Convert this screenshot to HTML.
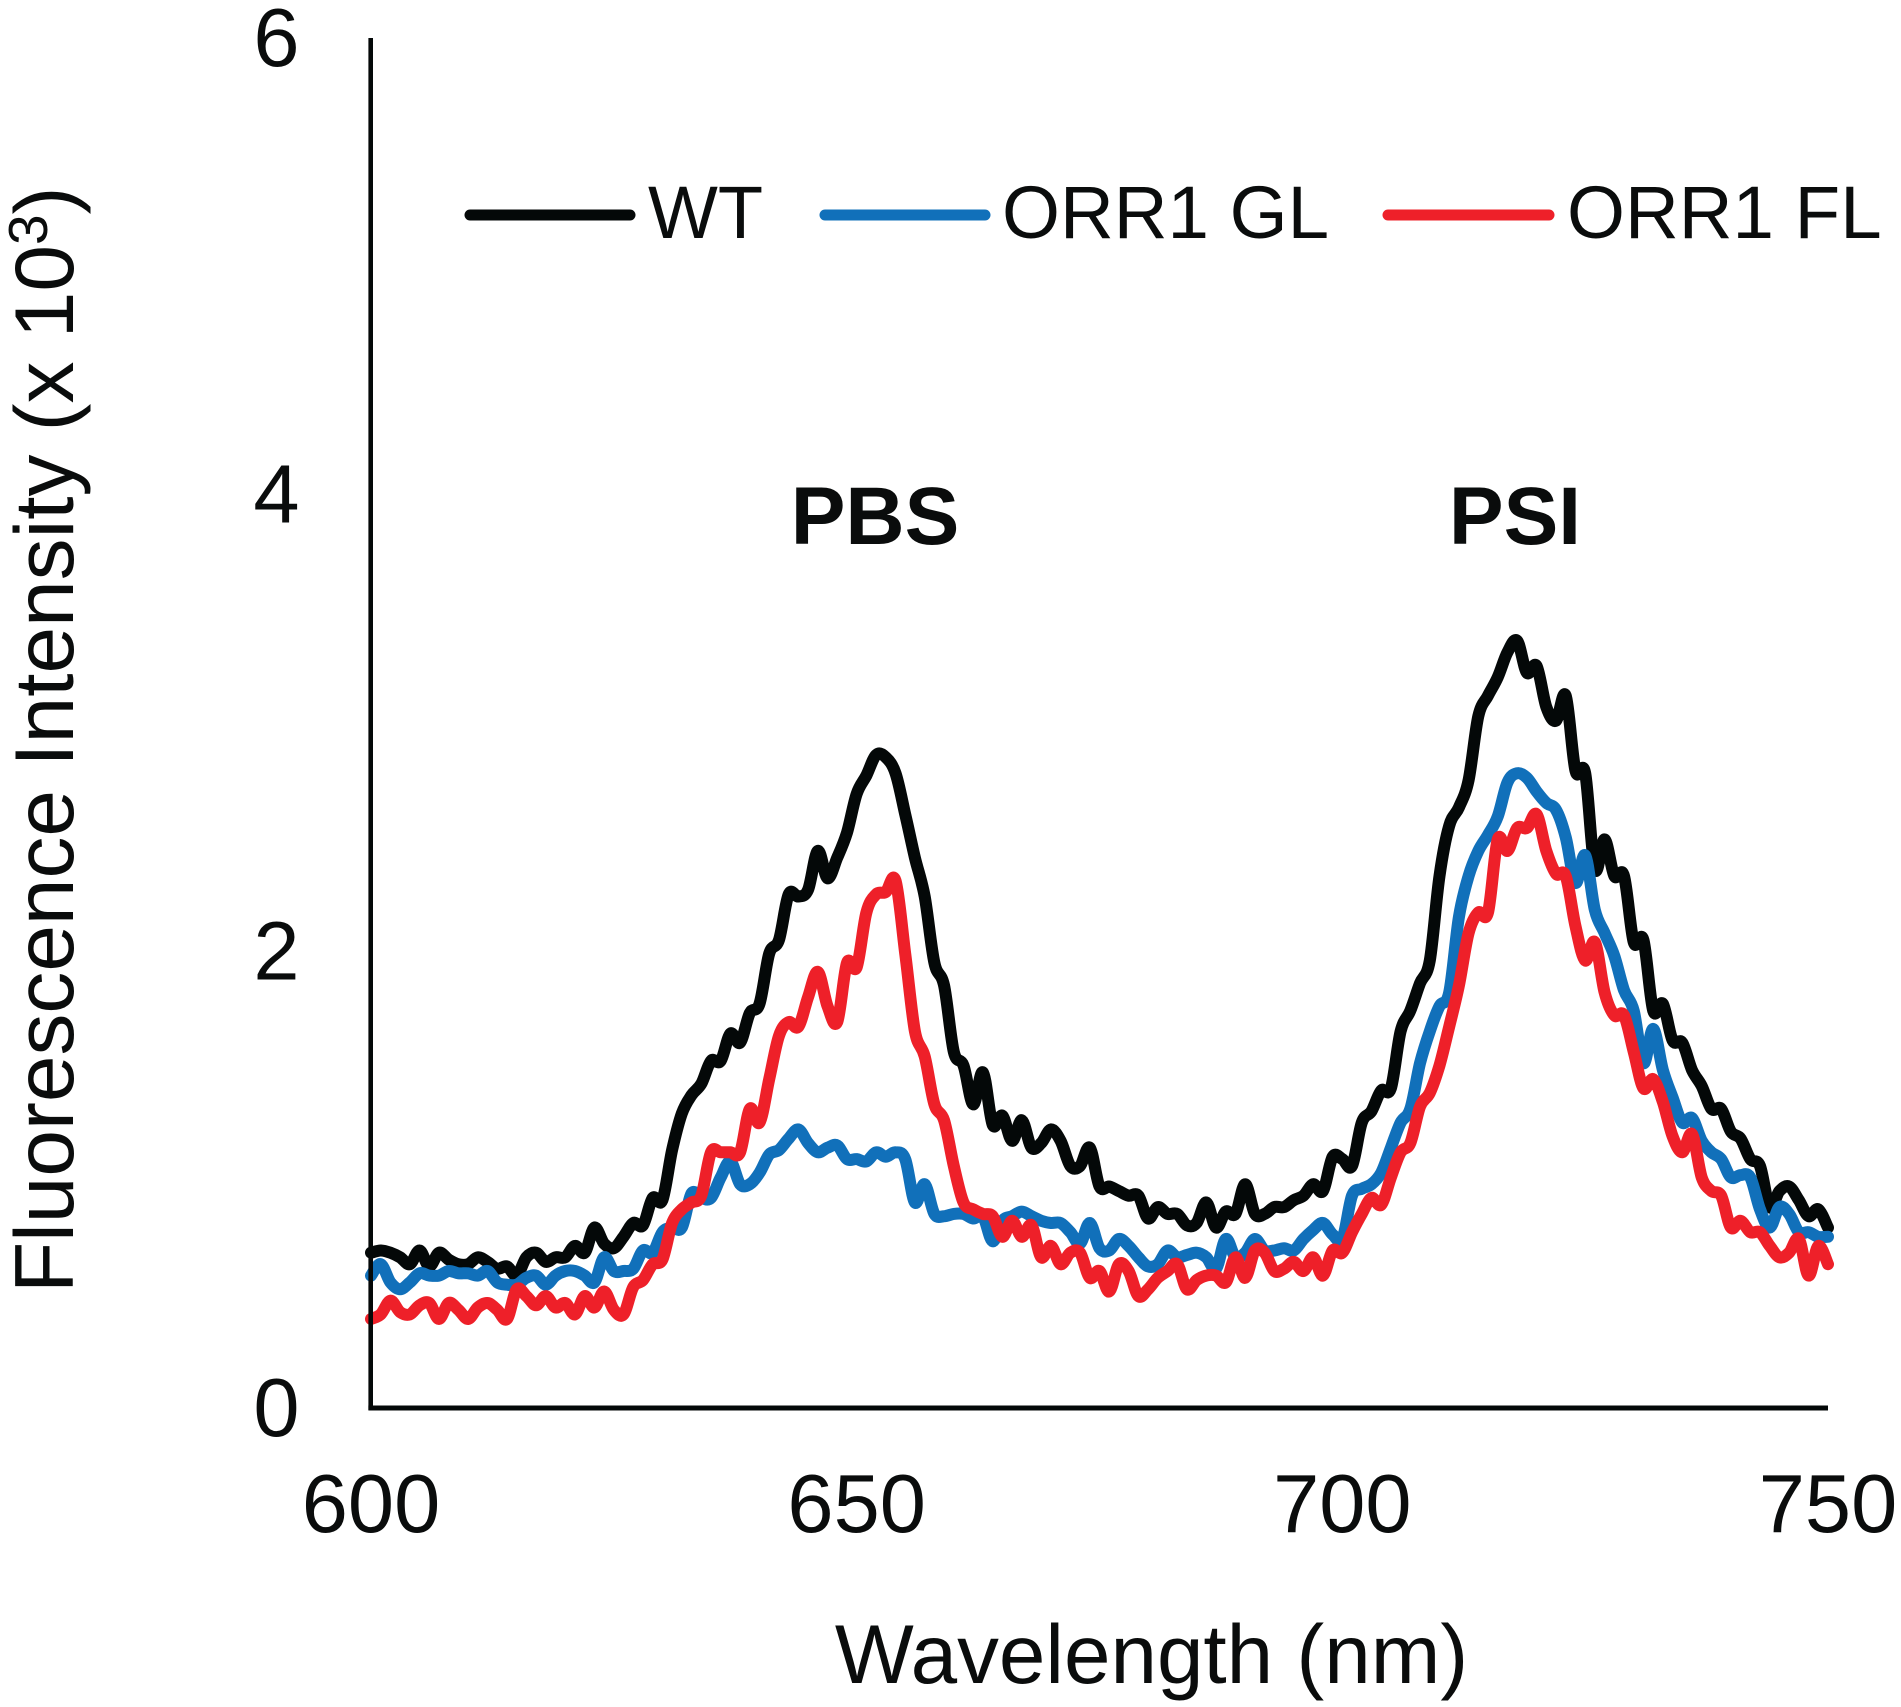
<!DOCTYPE html>
<html lang="en">
<head>
<meta charset="utf-8">
<title>Fluorescence emission spectra</title>
<style>
html,body{margin:0;padding:0;background:#fff;}
svg{display:block;}
text{font-family:"Liberation Sans",sans-serif;fill:#0a0c0c;}
</style>
</head>
<body>
<svg id="chart" xmlns="http://www.w3.org/2000/svg" width="1901" height="1707" viewBox="0 0 1901 1707">
  <rect x="0" y="0" width="1901" height="1707" fill="#ffffff"/>
  <g id="x-ticks"></g>
  <g id="y-ticks"></g>
  <g id="series"></g>
  <line x1="370.7" y1="38" x2="370.7" y2="1410" stroke="#040808" stroke-width="4.6"/>
  <line x1="368.4" y1="1408" x2="1828" y2="1408" stroke="#040808" stroke-width="5"/>
  <text transform="translate(73 1293) rotate(-90)" font-size="83.8">Fluorescence Intensity (x 10<tspan font-size="55" dy="-26">3</tspan><tspan dy="26">)</tspan></text>
  <text x="1151.5" y="1683" font-size="83.6" text-anchor="middle">Wavelength (nm)</text>
  <text x="875" y="544" font-size="82" font-weight="bold" text-anchor="middle">PBS</text>
  <text x="1515" y="544" font-size="82" font-weight="bold" text-anchor="middle">PSI</text>
  <g>
    <g>
      <line x1="470" y1="215" x2="630" y2="215" stroke="#040808" stroke-width="11" stroke-linecap="round"/>
      <text x="648" y="238" font-size="74">WT</text>
    </g>
    <g>
      <line x1="825" y1="215" x2="985" y2="215" stroke="#1170ba" stroke-width="11" stroke-linecap="round"/>
      <text x="1002" y="238" font-size="74.5">ORR1 GL</text>
    </g>
    <g>
      <line x1="1388" y1="215" x2="1549" y2="215" stroke="#ee2029" stroke-width="11" stroke-linecap="round"/>
      <text x="1567" y="238" font-size="74.5">ORR1 FL</text>
    </g>
  </g>
</svg>
<script>
var wavelengths = [600,601,602,603,604,605,606,607,608,609,610,611,612,613,614,615,616,617,618,619,620,621,622,623,624,625,626,627,628,629,630,631,632,633,634,635,636,637,638,639,640,641,642,643,644,645,646,647,648,649,650,651,652,653,654,655,656,657,658,659,660,661,662,663,664,665,666,667,668,669,670,671,672,673,674,675,676,677,678,679,680,681,682,683,684,685,686,687,688,689,690,691,692,693,694,695,696,697,698,699,700,701,702,703,704,705,706,707,708,709,710,711,712,713,714,715,716,717,718,719,720,721,722,723,724,725,726,727,728,729,730,731,732,733,734,735,736,737,738,739,740,741,742,743,744,745,746,747,748,749,750];
var wtValues = [.68,.69,.68,.66,.63,.69,.62,.68,.65,.63,
.63,.66,.64,.61,.62,.58,.66,.68,.64,.66,
.66,.71,.68,.79,.72,.70,.75,.81,.80,.92,
.91,1.13,1.29,1.37,1.42,1.52,1.52,1.64,1.60,1.73,
1.77,1.99,2.05,2.25,2.24,2.27,2.44,2.32,2.41,2.52,
2.69,2.77,2.86,2.85,2.78,2.60,2.41,2.24,1.95,1.85,
1.56,1.50,1.33,1.47,1.24,1.28,1.17,1.26,1.14,1.16,
1.22,1.17,1.06,1.06,1.14,.97,.97,.95,.93,.93,
.83,.88,.85,.85,.80,.81,.90,.79,.86,.85,
.98,.85,.85,.88,.88,.91,.93,.98,.95,1.10,
1.09,1.06,1.25,1.30,1.39,1.40,1.65,1.74,1.86,1.96,
2.33,2.55,2.63,2.75,3.03,3.12,3.20,3.31,3.36,3.22,
3.25,3.07,3.01,3.12,2.79,2.78,2.36,2.49,2.33,2.33,
2.04,2.05,1.74,1.77,1.61,1.60,1.48,1.41,1.31,1.31,
1.21,1.18,1.09,1.06,.88,.95,.97,.91,.84,.87,.79];
var glValues = [.58,.63,.55,.52,.55,.59,.58,.58,.60,.59,
.59,.58,.60,.55,.54,.54,.57,.58,.54,.58,
.60,.60,.58,.55,.66,.60,.60,.61,.69,.68,
.77,.79,.79,.94,.92,.92,1.01,1.08,.98,.98,
1.03,1.11,1.13,1.18,1.22,1.16,1.12,1.14,1.15,1.09,
1.09,1.08,1.12,1.10,1.12,1.09,.90,.98,.85,.84,
.85,.85,.83,.84,.73,.82,.84,.86,.84,.82,
.81,.81,.77,.72,.81,.70,.69,.74,.71,.66,
.62,.63,.69,.66,.67,.68,.66,.61,.74,.66,
.68,.74,.69,.69,.70,.69,.74,.78,.81,.76,
.74,.93,.96,.98,1.03,1.14,1.25,1.31,1.51,1.65,
1.76,1.82,2.15,2.33,2.44,2.51,2.59,2.74,2.78,2.76,
2.70,2.65,2.62,2.50,2.30,2.42,2.18,2.08,1.98,1.83,
1.74,1.51,1.66,1.48,1.36,1.25,1.27,1.17,1.12,1.09,
1.01,1.02,1.01,.87,.79,.88,.85,.77,.77,.75,.75];
var flValues = [.39,.41,.47,.42,.41,.45,.46,.39,.46,.43,
.39,.44,.46,.43,.39,.52,.49,.45,.49,.44,
.46,.41,.49,.44,.51,.43,.41,.53,.56,.63,
.65,.81,.87,.90,.93,1.12,1.12,1.12,1.12,1.31,
1.25,1.44,1.63,1.69,1.67,1.80,1.91,1.76,1.69,1.95,
1.93,2.17,2.25,2.26,2.31,1.99,1.65,1.54,1.33,1.26,
1.06,.90,.87,.85,.84,.75,.82,.75,.80,.66,
.71,.63,.68,.68,.57,.60,.51,.63,.60,.49,
.52,.57,.60,.63,.52,.56,.58,.58,.55,.66,
.57,.69,.68,.60,.61,.64,.60,.66,.58,.69,
.68,.77,.85,.92,.89,1.01,1.12,1.16,1.32,1.38,
1.50,1.67,1.85,2.08,2.17,2.17,2.49,2.44,2.54,2.54,
2.60,2.44,2.34,2.33,2.11,1.96,2.04,1.82,1.72,1.72,
1.56,1.40,1.44,1.34,1.19,1.12,1.20,1.01,.95,.93,
.79,.82,.77,.77,.71,.66,.68,.74,.58,.71,.63];
var xTickLabels = [600,650,700,750];
var yTickLabels = [0,2,4,6];

var SVG_NS = 'http://www.w3.org/2000/svg';
function xScale(nm){ return 371 + (nm - 600) * (1828 - 371) / 150; }
function yScale(v){ return 1408 - v * (1408 - 38) / 6; }

function linePath(xs, ys){
  var pts = xs.map(function(x, i){ return [xScale(x), yScale(ys[i])]; });
  var d = 'M' + pts[0][0].toFixed(1) + ' ' + pts[0][1].toFixed(1);
  for (var i = 0; i < pts.length - 1; i++){
    var p0 = pts[Math.max(i - 1, 0)], p1 = pts[i], p2 = pts[i + 1], p3 = pts[Math.min(i + 2, pts.length - 1)];
    var c1x = p1[0] + (p2[0] - p0[0]) / 6, c1y = p1[1] + (p2[1] - p0[1]) / 6;
    var c2x = p2[0] - (p3[0] - p1[0]) / 6, c2y = p2[1] - (p3[1] - p1[1]) / 6;
    d += 'C' + c1x.toFixed(1) + ' ' + c1y.toFixed(1) + ' ' + c2x.toFixed(1) + ' ' + c2y.toFixed(1) + ' ' + p2[0].toFixed(1) + ' ' + p2[1].toFixed(1);
  }
  return d;
}

var seriesGroup = document.getElementById('series');

var wtLine = document.createElementNS(SVG_NS, 'path');


wtLine.setAttribute('d', linePath(wavelengths, wtValues));
wtLine.setAttribute('stroke', '#040808');
seriesGroup.appendChild(wtLine);

var glLine = document.createElementNS(SVG_NS, 'path');


glLine.setAttribute('d', linePath(wavelengths, glValues));
glLine.setAttribute('stroke', '#1170ba');
seriesGroup.appendChild(glLine);

var flLine = document.createElementNS(SVG_NS, 'path');


flLine.setAttribute('d', linePath(wavelengths, flValues));
flLine.setAttribute('stroke', '#ee2029');
seriesGroup.appendChild(flLine);

[wtLine, glLine, flLine].forEach(function(p){
  p.setAttribute('fill', 'none');
  p.setAttribute('stroke-width', '12');
  p.setAttribute('stroke-linejoin', 'round');
  p.setAttribute('stroke-linecap', 'round');
});

var xTickGroup = document.getElementById('x-ticks');
xTickLabels.forEach(function(t){
  var el = document.createElementNS(SVG_NS, 'text');
  
  
  el.setAttribute('x', xScale(t));
  el.setAttribute('y', 1532);
  el.setAttribute('font-size', 83);
  el.setAttribute('text-anchor', 'middle');
  el.textContent = t;
  xTickGroup.appendChild(el);
});

var yTickGroup = document.getElementById('y-ticks');
yTickLabels.forEach(function(t){
  var el = document.createElementNS(SVG_NS, 'text');
  
  
  el.setAttribute('x', 299.5);
  el.setAttribute('y', yScale(t) + 28);
  el.setAttribute('font-size', 83);
  el.setAttribute('text-anchor', 'end');
  el.textContent = t;
  yTickGroup.appendChild(el);
});
</script>
</body>
</html>
